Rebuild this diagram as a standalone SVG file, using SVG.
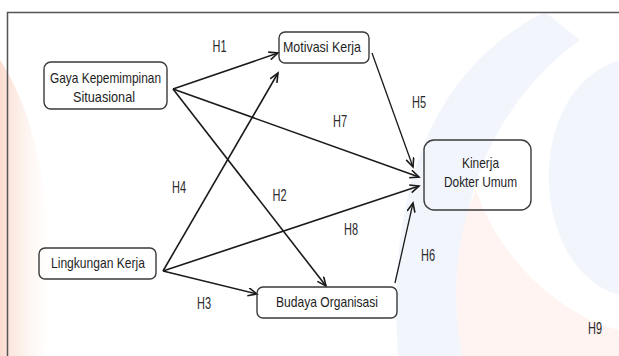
<svg xmlns="http://www.w3.org/2000/svg" width="619" height="356" viewBox="0 0 619 356">
  <style>
    .box { fill: none; stroke: #3a3a3a; stroke-width: 1.4; }
    .txt { font-family: "Liberation Sans", Arial, sans-serif; font-size: 15px; fill: #1e1e1e; text-anchor: middle; }
    .lbl { font-family: "Liberation Sans", Arial, sans-serif; font-size: 16px; fill: #2a2a2a; text-anchor: middle; }
    .edge { stroke: #1a1a1a; stroke-width: 1.6; fill: none; marker-end: url(#arr); }
  </style>
  <defs>
    <marker id="arr" markerUnits="userSpaceOnUse" markerWidth="12" markerHeight="10" refX="10" refY="4.5" orient="auto">
      <path d="M1,0.5 L10,4.5 L1,8.5" fill="none" stroke="#1a1a1a" stroke-width="1.6"/>
    </marker>
    <linearGradient id="lg" x1="0" y1="0" x2="1" y2="0">
      <stop offset="0" stop-color="#f6b9a0" stop-opacity="0.5"/>
      <stop offset="1" stop-color="#fbe3d8" stop-opacity="0"/>
    </linearGradient>
  </defs>
  <rect width="619" height="356" fill="#ffffff"/>
  <g id="watermark">
    <path d="M0,60 C40,120 60,230 45,356 L0,356 Z" fill="url(#lg)"/>
    <path d="M545,12 C450,60 385,160 398,356 L470,356 C445,250 470,120 580,40 Z" fill="#f2f6fc"/>
    <path d="M619,60 C560,80 540,150 552,210 C565,270 600,290 619,295 Z" fill="#f2f6fc"/>
    <path d="M462,356 C450,290 458,230 476,190 C500,260 560,315 619,330 L619,356 Z" fill="#fff4f1"/>
  </g>
  <path id="frame" d="M7.5,356 V12.5 H619" fill="none" stroke="#555" stroke-width="1.5"/>
  <g id="connectors">
    <line class="edge" x1="173" y1="89" x2="278" y2="53"/>
    <line class="edge" x1="173" y1="89" x2="419" y2="177"/>
    <line class="edge" x1="173" y1="89" x2="326" y2="286"/>
    <line class="edge" x1="163" y1="271" x2="278" y2="73"/>
    <line class="edge" x1="163" y1="271" x2="419" y2="186"/>
    <line class="edge" x1="163" y1="271" x2="257" y2="294"/>
    <line class="edge" x1="372" y1="53" x2="413" y2="167" style="stroke-width:1.3"/>
    <line class="edge" x1="395" y1="283" x2="413" y2="203" style="stroke-width:1.3"/>
  </g>
  <g id="labels">
    <text class="lbl" x="219.5" y="52" textLength="14" lengthAdjust="spacingAndGlyphs">H1</text>
    <text class="lbl" x="340" y="127" textLength="14" lengthAdjust="spacingAndGlyphs">H7</text>
    <text class="lbl" x="419" y="108" textLength="14" lengthAdjust="spacingAndGlyphs">H5</text>
    <text class="lbl" x="179" y="193" textLength="14" lengthAdjust="spacingAndGlyphs">H4</text>
    <text class="lbl" x="279.5" y="201" textLength="14" lengthAdjust="spacingAndGlyphs">H2</text>
    <text class="lbl" x="351" y="235" textLength="14" lengthAdjust="spacingAndGlyphs">H8</text>
    <text class="lbl" x="428" y="261" textLength="14" lengthAdjust="spacingAndGlyphs">H6</text>
    <text class="lbl" x="204" y="309" textLength="14" lengthAdjust="spacingAndGlyphs">H3</text>
    <text class="lbl" x="595" y="334" textLength="14" lengthAdjust="spacingAndGlyphs">H9</text>
  </g>
  <g id="gaya">
    <rect class="box" x="44" y="62" width="123" height="47" rx="7"/>
    <text class="txt" x="105.5" y="83" textLength="111" lengthAdjust="spacingAndGlyphs">Gaya Kepemimpinan</text>
    <text class="txt" x="104" y="102" textLength="62" lengthAdjust="spacingAndGlyphs">Situasional</text>
  </g>
  <g id="motivasi">
    <rect class="box" x="279" y="32" width="90" height="31" rx="6"/>
    <text class="txt" x="322" y="52" textLength="78" lengthAdjust="spacingAndGlyphs">Motivasi Kerja</text>
  </g>
  <g id="kinerja">
    <rect class="box" x="424" y="140" width="107" height="70" rx="10"/>
    <text class="txt" x="480.5" y="168" textLength="37" lengthAdjust="spacingAndGlyphs">Kinerja</text>
    <text class="txt" x="480.5" y="187" textLength="73" lengthAdjust="spacingAndGlyphs">Dokter Umum</text>
  </g>
  <g id="lingkungan">
    <rect class="box" x="39" y="248" width="117" height="31" rx="6"/>
    <text class="txt" x="98" y="268" textLength="94" lengthAdjust="spacingAndGlyphs">Lingkungan Kerja</text>
  </g>
  <g id="budaya">
    <rect class="box" x="257" y="287" width="140" height="31" rx="6"/>
    <text class="txt" x="327" y="307" textLength="102" lengthAdjust="spacingAndGlyphs">Budaya Organisasi</text>
  </g>
</svg>
